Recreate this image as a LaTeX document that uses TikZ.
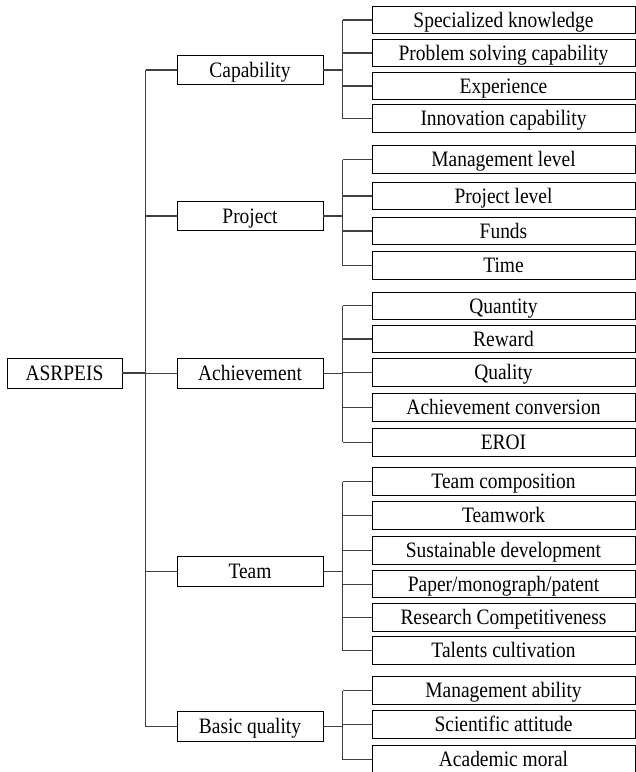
\documentclass[tikz,border=0pt]{standalone}
\usepackage{fontspec}
\setmainfont{Liberation Serif}
\usepackage{graphicx}
\newcommand\sx[1]{\scalebox{0.885}[1]{#1}}
\begin{document}
\begin{tikzpicture}[x=1pt,y=-1pt,
  basebox/.style={draw=black,line width=0.95pt,inner sep=0pt,text height=14.5pt,text depth=0pt,
    font=\fontsize{22}{24}\selectfont},
  rootbox/.style={basebox,minimum width=115pt,minimum height=30pt},
  midbox/.style={basebox,minimum width=146pt,minimum height=29.5pt},
  leafbox/.style={basebox,minimum width=263pt,minimum height=27.5pt},
  conn/.style={draw=black!75,line width=1.1pt}]
\useasboundingbox (0,0) rectangle (636,772);
\newcommand\leaf[3]{\node[leafbox] (#1) at (503.5,#2) {\sx{#3}};}
% root
\node[rootbox] (root) at (64.5,373) {\sx{ASRPEIS}};
% level 2
\node[midbox] (cap) at (250,70) {\sx{Capability}};
\node[midbox] (pro) at (250,216) {\sx{Project}};
\node[midbox] (ach) at (250,373.5) {\sx{Achievement}};
\node[midbox] (tea) at (250,571.5) {\sx{Team}};
\node[midbox] (bq) at (250,726.5) {\sx{Basic quality}};
% leaves
\leaf{c1}{20}{Specialized knowledge}
\leaf{c2}{53}{Problem solving capability}
\leaf{c3}{86}{Experience}
\leaf{c4}{118.5}{Innovation capability}
\leaf{p1}{159.5}{Management level}
\leaf{p2}{196}{Project level}
\leaf{p3}{231}{Funds}
\leaf{p4}{265.7}{Time}
\leaf{a1}{305.8}{Quantity}
\leaf{a2}{339}{Reward}
\leaf{a3}{372.5}{Quality}
\leaf{a4}{407.5}{Achievement conversion}
\leaf{a5}{442.3}{EROI}
\leaf{t1}{481.7}{Team composition}
\leaf{t2}{515.3}{Teamwork}
\leaf{t3}{550.5}{Sustainable development}
\leaf{t4}{584.2}{Paper/monograph/patent}
\leaf{t5}{617.5}{Research Competitiveness}
\leaf{t6}{650.5}{Talents cultivation}
\leaf{b1}{690.7}{Management ability}
\leaf{b2}{724.5}{Scientific attitude}
\leaf{b3}{759.5}{Academic moral}
% trunk
\draw[conn] ([xshift=-31pt]cap.west) -- ([xshift=-31pt]bq.west);
\foreach \n in {cap,pro,ach,tea,bq} \draw[conn] (\n.west) -- ++(-31,0);
\draw[conn] (root.east) -- ++(24,0);
% buses
\foreach \n in {cap,pro,ach,tea,bq} \draw[conn] (\n.east) -- ++(20,0);
\draw[conn] ([xshift=-29pt]c1.west) -- ([xshift=-29pt]c4.west);
\draw[conn] ([xshift=-29pt]p1.west) -- ([xshift=-29pt]p4.west);
\draw[conn] ([xshift=-29pt]a1.west) -- ([xshift=-29pt]a5.west);
\draw[conn] ([xshift=-29pt]t1.west) -- ([xshift=-29pt]t6.west);
\draw[conn] ([xshift=-29pt]b1.west) -- ([xshift=-29pt]b3.west);
\foreach \n in {c1,c2,c3,c4,p1,p2,p3,p4,a1,a2,a3,a4,a5,t1,t2,t3,t4,t5,t6,b1,b2,b3}
  \draw[conn] (\n.west) -- ++(-29,0);
\end{tikzpicture}
\end{document}
